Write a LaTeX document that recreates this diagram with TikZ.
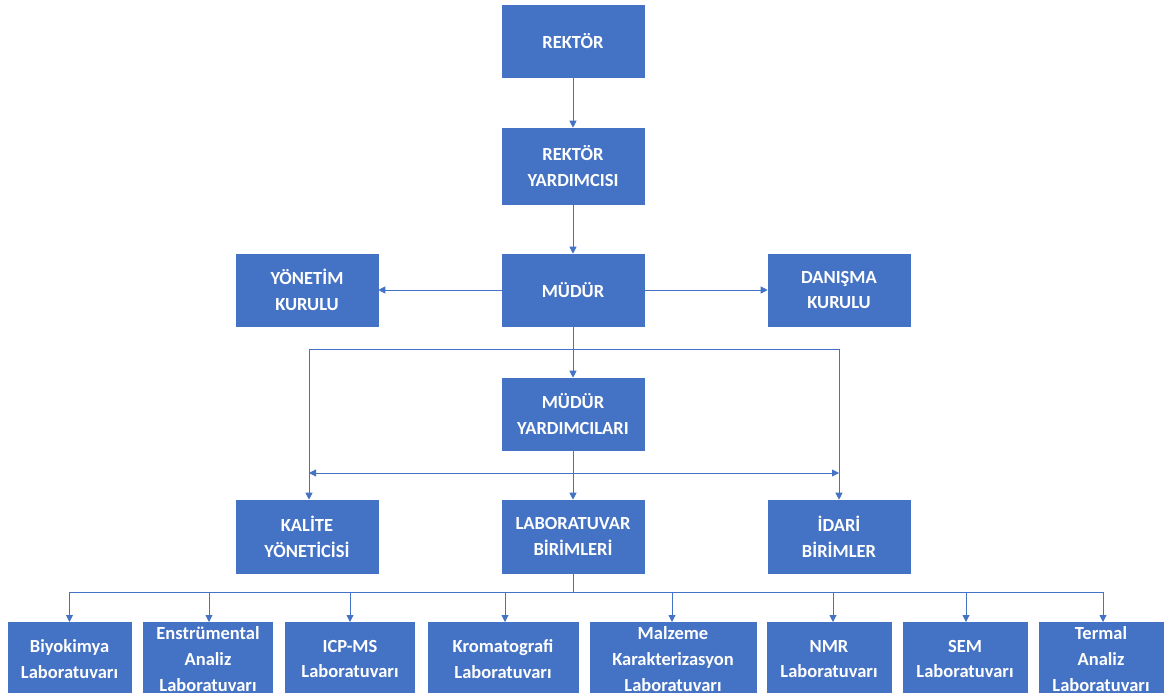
\documentclass[tikz,border=0pt]{standalone}
\usepackage{fontspec}
\setmainfont{Carlito}
\usetikzlibrary{arrows.meta}
\definecolor{obox}{HTML}{4472C4}
\tikzset{
  box/.style={draw=obox, fill=obox, line width=0.6pt, rectangle, inner sep=0pt,
    align=center, text=white, font=\bfseries\fontsize{18.5}{25.7}\selectfont},
  mbox/.style={box, minimum width=142pt, minimum height=72pt},
  lbox/.style={box, minimum height=74pt},
  conn/.style={draw=obox, line width=0.9pt},
  arr/.style={conn, -{Triangle[length=7pt,width=7pt]}},
  darr/.style={conn, {Triangle[length=7pt,width=7pt]}-{Triangle[length=7pt,width=7pt]}}
}
\begin{document}
\begin{tikzpicture}[x=1pt,y=-1pt]
\clip (0,0) rectangle (1167,693);
\fill[white] (0,0) rectangle (1167,693);
% top chain
\node[mbox] (rektor) at (573,41) {REKTÖR};
\node[mbox, minimum height=76pt] (ry) at (573,166) {REKTÖR\\YARDIMCISI};
\node[mbox] (mudur) at (573,290) {MÜDÜR};
\node[mbox] (yk) at (307,290) {YÖNETİM\\KURULU};
\node[mbox] (dk) at (839,290) {DANIŞMA\\KURULU};
\node[mbox] (my) at (573,414) {MÜDÜR\\YARDIMCILARI};
\node[mbox, minimum height=73pt] (kal) at (307,536.5) {KALİTE\\YÖNETİCİSİ};
\node[mbox, minimum height=73pt] (lab) at (573,536.5) {LABORATUVAR\\BİRİMLERİ};
\node[mbox, minimum height=73pt] (ida) at (839,536.5) {İDARİ\\BİRİMLER};
% bottom row
\node[lbox, minimum width=123pt] (bio) at (69.5,659) {Biyokimya\\Laboratuvarı};
\node[lbox, minimum width=129pt] (ens) at (208,659) {Enstrümental\\Analiz\\Laboratuvarı};
\node[lbox, minimum width=129pt] (icp) at (350,659) {ICP-MS\\Laboratuvarı};
\node[lbox, minimum width=150pt] (kro) at (503,659) {Kromatografi\\Laboratuvarı};
\node[lbox, minimum width=166pt] (mal) at (673,659) {Malzeme\\Karakterizasyon\\Laboratuvarı};
\node[lbox, minimum width=124pt] (nmr) at (829,659) {NMR\\Laboratuvarı};
\node[lbox, minimum width=124pt] (sem) at (965,659) {SEM\\Laboratuvarı};
\node[lbox, minimum width=124pt] (ter) at (1101,659) {Termal\\Analiz\\Laboratuvarı};
% connectors
\draw[arr] (rektor) -- (ry);
\draw[arr] (ry) -- (mudur);
\draw[arr] (mudur.west) -- (yk.east);
\draw[arr] (mudur.east) -- (dk.west);
\coordinate (b1) at (573,349);
\coordinate (bl) at (309,349);
\coordinate (br) at (839,349);
\draw[conn] (mudur.south) -- (b1);
\draw[arr] (b1) -- (my.north);
\draw[conn] (bl) -- (br);
\draw[arr] (bl) -- (bl |- kal.north);
\draw[arr] (br) -- (br |- ida.north);
\coordinate (dl) at (309,473);
\coordinate (dr) at (839,473);
\draw[darr] (dl) -- (dr);
\draw[arr] (my.south) -- (lab.north);
\coordinate (b2) at (573,592);
\draw[conn] (lab.south) -- (b2);
\coordinate (bb1) at (69.5,592);
\coordinate (bb2) at (1103,592);
\draw[conn] (bb1) -- (bb2);
\foreach \n/\x in {bio/69.5,ens/209,icp/350,kro/505,mal/672,nmr/833,sem/966,ter/1103}{
  \draw[arr] (\x,592) -- (\x,622);
}
\end{tikzpicture}
\end{document}
